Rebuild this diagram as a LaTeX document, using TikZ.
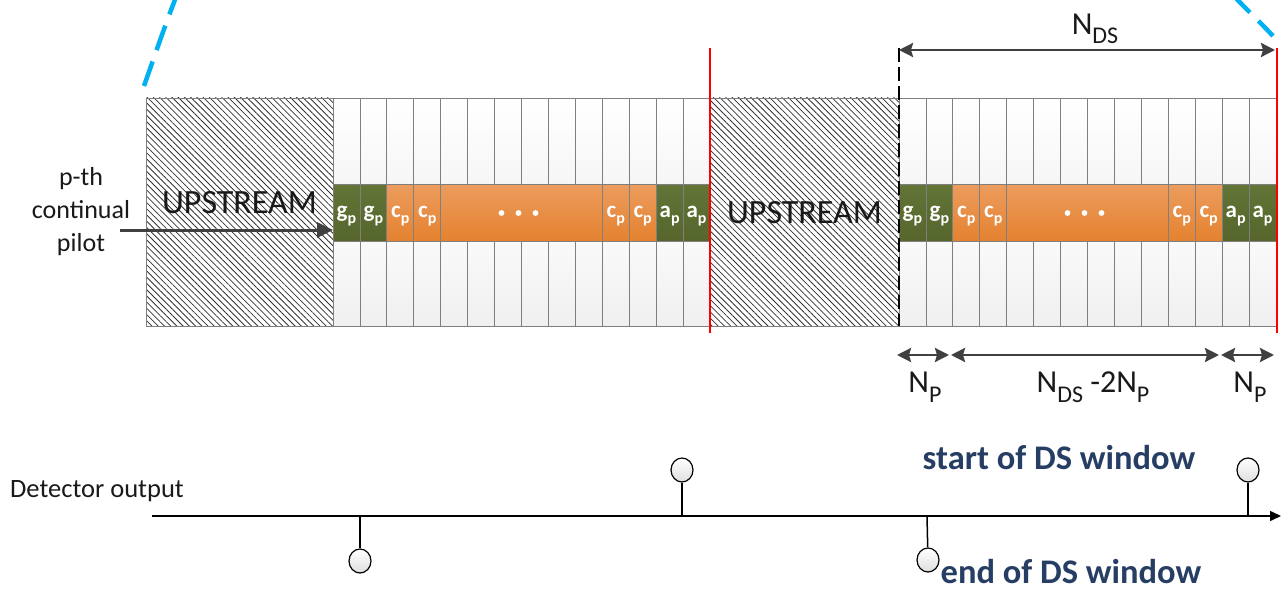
\documentclass[tikz,border=0pt]{standalone}
\usepackage{fontspec}
\setmainfont{Carlito}
\usetikzlibrary{arrows.meta,patterns.meta,shapes.geometric}
\definecolor{pgreenT}{HTML}{627436}
\definecolor{pgreenB}{HTML}{56662D}
\definecolor{porangeT}{HTML}{EC9C5E}
\definecolor{porangeB}{HTML}{E4822F}
\definecolor{cellgray}{HTML}{7F7F7F}
\definecolor{arrowgray}{HTML}{404040}
\definecolor{dsblue}{HTML}{263E63}
\definecolor{zoomblue}{HTML}{00B0F0}
\newcommand\mysmallp{\raisebox{-0.3em}{\fontsize{16}{16}\selectfont p}}
\newcommand\mydimsub[1]{\raisebox{-0.3em}{\fontsize{24}{24}\selectfont #1}}
\begin{document}
\begin{tikzpicture}[x=1pt,y=-1pt,
  cellline/.style={draw=cellgray, line width=0.8pt},
  hatchfill/.style={pattern={Lines[angle=-45,distance=4.4pt,line width=0.8pt]}, pattern color=black!80},
  upcell/.style={cellline, top color=white, bottom color=gray!7},
  lowcell/.style={cellline, top color=gray!4, bottom color=gray!12},
  greencell/.style={cellline, top color=pgreenT, bottom color=pgreenB},
  orangecell/.style={cellline, top color=porangeT, bottom color=porangeB},
  celltext/.style={text=white, font=\fontsize{23}{23}\selectfont\bfseries, anchor=base, inner sep=0pt},
  bigtext/.style={font=\fontsize{34}{34}\selectfont, anchor=base, inner sep=0pt, text=black!90},
  dimtext/.style={font=\fontsize{32}{32}\selectfont, inner sep=0pt, text=black!90},
  dimarrow/.style={draw=arrowgray, line width=2.6pt,
     arrows={Stealth[length=14pt,width=14pt,inset=2pt]-Stealth[length=14pt,width=14pt,inset=2pt]}},
  redline/.style={draw=red, line width=2pt},
  zoomline/.style={draw=zoomblue, line width=4.5pt, dash pattern=on 26pt off 12pt},
  stemline/.style={draw=black, line width=1.5pt},
  stemcirc/.style={ellipse, draw=black, line width=1.2pt, minimum width=22pt, minimum height=24pt,
     inner sep=0pt, top color=white, bottom color=gray!25},
  dslabel/.style={font=\fontsize{34.5}{34.5}\selectfont\bfseries, text=dsblue, inner sep=0pt}
]
\useasboundingbox (0,0) rectangle (1288,591);
\def\w{26.93}
% zoom callout lines
\draw[zoomline] (144,86) .. controls (155,55) and (165,25) .. (178,-8);
\draw[zoomline, dash pattern=on 21pt off 12pt] (1273,36) .. controls (1260,22) and (1245,8) .. (1230,-8);
% frames
\foreach \xs/\xh/\f/\uy in {146/333/1/213, 710/899/2/223} {
  \fill[white] (\xs,98) rectangle (\xh,326);
  \fill[hatchfill] (\xs,98) rectangle (\xh,326);
  \draw[cellline] (\xs,98) rectangle (\xh,326);
  \node[bigtext] (up\f) at ({(\xs+\xh)/2},\uy) {UPSTREAM};
  \foreach \i in {0,...,13} {
    \draw[upcell] ({\xh+\i*\w},98) rectangle ({\xh+(\i+1)*\w},184);
    \draw[lowcell] ({\xh+\i*\w},241) rectangle ({\xh+(\i+1)*\w},326);
  }
  \foreach \i in {0,1,12,13}
    \draw[greencell] ({\xh+\i*\w},184) rectangle ({\xh+(\i+1)*\w},241);
  \foreach \i in {2,3,10,11}
    \draw[orangecell] ({\xh+\i*\w},184) rectangle ({\xh+(\i+1)*\w},241);
  \draw[orangecell] ({\xh+4*\w},184) rectangle ({\xh+10*\w},241);
  \foreach \dx in {-20,-3,14}
    \fill[white] ({\xh+7*\w+\dx},213) circle (2.9);
  \foreach \i/\t in {0/g,1/g,2/c,3/c,10/c,11/c,12/a,13/a}
    \node[celltext] (lab\f-\i) at ({\xh+(\i+0.5)*\w},217) {\t\mysmallp};
}
% red boundaries and dashed start
\draw[redline] (710,48) -- (710,333);
\draw[redline] (1277,48) -- (1277,333);
\draw[draw=black, line width=2.6pt, dash pattern=on 14pt off 5pt] (899,48) -- (899,326);
% p-th continual pilot
\node[font=\fontsize{26}{33}\selectfont, align=center, inner sep=0pt, text=black!90] (pilot) at (81,212) {p-th\\continual\\pilot};
\coordinate (pa) at (120,230);
\coordinate (pb) at (333,230);
\draw[draw=arrowgray, line width=3pt, -{Triangle[length=16pt,width=15pt]}] (pa) -- (pb);
% N_DS dimension
\coordinate (dsl) at (899,50);
\coordinate (dsr) at (1275,50);
\draw[dimarrow] (dsl) -- (dsr);
\node[dimtext] (nds) at (1095,29) {N\mydimsub{DS}};
% lower dimensions
\coordinate (n1a) at (897,355);
\coordinate (n1b) at (949,355);
\coordinate (m1a) at (951,355);
\coordinate (m1b) at (1219,355);
\coordinate (n2a) at (1221,355);
\coordinate (n2b) at (1274,355);
\draw[dimarrow] (n1a) -- (n1b);
\draw[dimarrow] (m1a) -- (m1b);
\draw[dimarrow] (n2a) -- (n2b);
\node[dimtext] (np1) at (925,387) {N\mydimsub{P}};
\node[dimtext] (nmid) at (1093,387) {N\mydimsub{DS} -2N\mydimsub{P}};
\node[dimtext] (np2) at (1250,387) {N\mydimsub{P}};
% detector output timeline
\node[font=\fontsize{26.5}{26.5}\selectfont, anchor=west, inner sep=0pt, text=black!90] (detlbl) at (10,491) {Detector output};
\coordinate (axs) at (152,516);
\coordinate (axe) at (1281,516);
\draw[stemline, -{Triangle[length=11pt,width=10pt]}] (axs) -- (axe);
\coordinate (t1) at (360,516);
\coordinate (t2) at (682,516);
\coordinate (t3) at (927,516);
\coordinate (t4) at (1248,516);
\node[stemcirc] (c1) at (360,561) {};
\node[stemcirc] (c2) at (682,470) {};
\node[stemcirc] (c3) at (928,560) {};
\node[stemcirc] (c4) at (1248,470) {};
\draw[stemline] (t1) -- (c1);
\draw[stemline] (t2) -- (c2);
\draw[stemline] (t3) -- (c3);
\draw[stemline] (t4) -- (c4);
\node[dslabel] (startlbl) at (1059,458) {start of DS window};
\node[dslabel] (endlbl) at (1071,572) {end of DS window};
\end{tikzpicture}
\end{document}
